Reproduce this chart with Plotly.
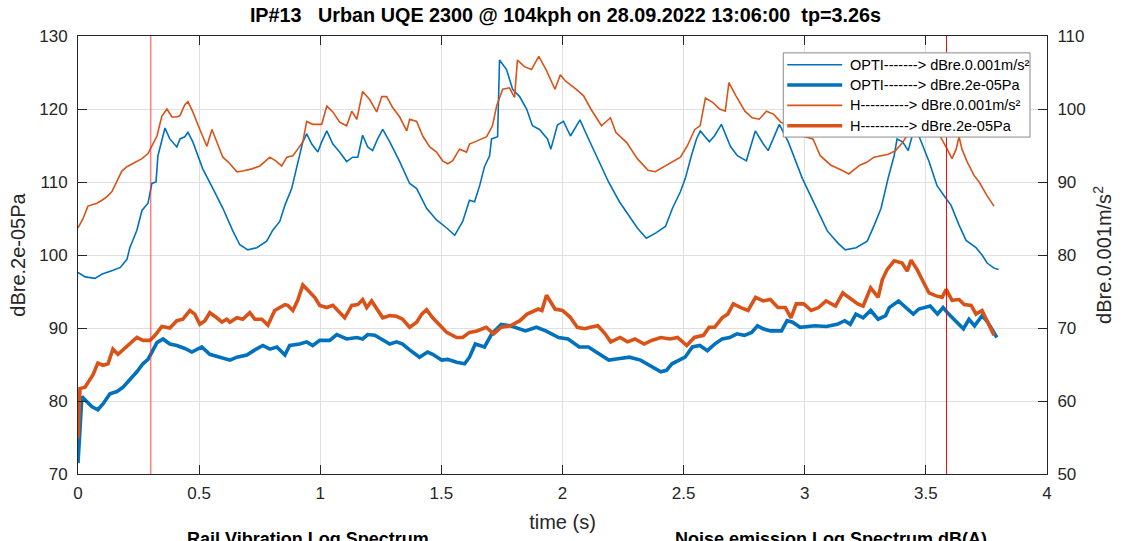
import plotly.graph_objects as go

# ---------------- data ----------------
# OPTI rail vibration level, dB re 0.001 m/s² (right axis)
t_opti_vib = [0.000, 0.030, 0.070, 0.100, 0.145, 0.175, 0.202, 0.214, 0.243, 0.264, 0.289, 0.305, 0.322, 0.330,
              0.359, 0.379, 0.408, 0.421, 0.441, 0.454, 0.474, 0.515, 0.557, 0.598, 0.639, 0.668, 0.701, 0.738,
              0.779, 0.804, 0.833, 0.854, 0.882, 0.907, 0.928, 0.944, 0.965, 0.990, 1.006, 1.027, 1.052, 1.080,
              1.109, 1.134, 1.155, 1.175, 1.196, 1.216, 1.237, 1.258, 1.287, 1.328, 1.369, 1.398, 1.439, 1.480,
              1.522, 1.555, 1.588, 1.616, 1.637, 1.658, 1.678, 1.699, 1.707, 1.732, 1.740, 1.769, 1.794, 1.823,
              1.852, 1.876, 1.905, 1.938, 1.952, 1.979, 2.004, 2.033, 2.072, 2.102, 2.146, 2.190, 2.235, 2.280,
              2.309, 2.346, 2.384, 2.425, 2.454, 2.487, 2.507, 2.532, 2.553, 2.569, 2.606, 2.627, 2.656, 2.693,
              2.722, 2.759, 2.796, 2.829, 2.849, 2.895, 2.932, 2.990, 3.047, 3.093, 3.138, 3.167, 3.212, 3.258,
              3.287, 3.315, 3.344, 3.369, 3.381, 3.404, 3.427, 3.445, 3.460, 3.475, 3.513, 3.546, 3.584, 3.604,
              3.637, 3.666, 3.707, 3.732, 3.753, 3.781, 3.800]
opti_vib = [77.6, 77.0, 76.8, 77.4, 77.9, 78.3, 79.4, 81.0, 83.4, 86.1, 87.1, 89.8, 90.0, 93.6,
            97.4, 95.9, 94.8, 95.9, 96.2, 96.8, 95.5, 91.8, 89.1, 86.4, 83.3, 81.4, 80.7, 81.0,
            81.9, 83.4, 84.6, 86.8, 89.1, 92.8, 95.5, 96.6, 95.2, 94.1, 95.5, 97.0, 95.2, 94.1,
            92.8, 93.4, 93.4, 96.4, 94.8, 94.3, 95.9, 97.2, 95.5, 92.8, 89.8, 89.1, 86.4, 84.8,
            83.7, 82.7, 84.6, 87.5, 87.3, 89.5, 92.1, 93.6, 95.9, 96.2, 106.7, 105.4, 102.7, 101.7,
            100.0, 97.7, 97.2, 95.9, 94.5, 97.8, 98.3, 96.3, 98.5, 96.3, 93.2, 90.0, 87.3, 85.0,
            83.7, 82.3, 83.0, 83.9, 86.4, 88.7, 90.5, 93.6, 95.9, 97.0, 95.5, 96.3, 97.9, 94.9,
            93.6, 92.9, 97.0, 95.2, 94.3, 97.9, 95.5, 90.5, 86.4, 83.3, 81.6, 80.7, 81.0, 81.9,
            84.1, 86.4, 90.5, 93.6, 95.9, 95.5, 94.3, 96.5, 97.5, 96.0, 92.8, 89.5, 87.7, 86.8,
            84.1, 82.0, 81.0, 80.0, 78.9, 78.2, 78.0]

# OPTI noise level, dB re 2e-05 Pa (left axis)
t_opti_noise = [0.000, 0.016, 0.037, 0.058, 0.082, 0.103, 0.132, 0.161, 0.186, 0.214, 0.243, 0.268, 0.289, 0.305,
                0.326, 0.351, 0.379, 0.408, 0.441, 0.470, 0.511, 0.544, 0.586, 0.627, 0.656, 0.697, 0.730, 0.763,
                0.792, 0.821, 0.854, 0.874, 0.915, 0.944, 0.969, 0.998, 1.039, 1.068, 1.109, 1.151, 1.175, 1.196,
                1.225, 1.258, 1.287, 1.315, 1.340, 1.369, 1.410, 1.443, 1.464, 1.501, 1.526, 1.563, 1.596, 1.616,
                1.640, 1.678, 1.708, 1.747, 1.785, 1.847, 1.892, 1.931, 1.984, 2.023, 2.069, 2.107, 2.138, 2.191,
                2.230, 2.276, 2.322, 2.368, 2.406, 2.429, 2.452, 2.506, 2.536, 2.567, 2.598, 2.628, 2.659, 2.690,
                2.720, 2.751, 2.781, 2.805, 2.828, 2.858, 2.904, 2.927, 2.950, 2.981, 3.042, 3.089, 3.134, 3.165,
                3.188, 3.211, 3.241, 3.272, 3.303, 3.334, 3.349, 3.387, 3.418, 3.448, 3.471, 3.518, 3.548, 3.571,
                3.594, 3.655, 3.678, 3.701, 3.732, 3.755, 3.793]
opti_noise = [71.5, 80.6, 79.9, 79.2, 78.8, 79.6, 81.0, 81.3, 81.9, 82.9, 84.0, 85.1, 85.7, 86.7,
              88.0, 88.5, 87.8, 87.6, 87.2, 86.7, 87.4, 86.4, 86.0, 85.6, 86.0, 86.3, 87.0, 87.6,
              87.1, 87.4, 86.3, 87.6, 87.8, 88.1, 87.6, 88.3, 88.3, 89.1, 88.5, 88.7, 88.5, 89.1,
              89.0, 88.3, 87.8, 88.1, 87.8, 87.0, 86.0, 86.7, 86.4, 85.6, 85.7, 85.3, 85.1, 86.0,
              87.8, 87.4, 89.2, 90.5, 90.3, 89.6, 90.1, 89.6, 88.7, 88.5, 87.4, 87.4, 86.7, 85.6,
              85.8, 86.0, 85.6, 84.7, 84.0, 84.2, 85.1, 86.0, 87.4, 87.6, 86.9, 87.8, 88.5, 88.7,
              89.2, 89.0, 89.4, 90.3, 89.9, 89.6, 89.6, 91.0, 90.8, 90.1, 90.3, 90.2, 90.5, 91.0,
              90.5, 91.9, 91.4, 92.4, 91.2, 91.7, 92.8, 93.7, 92.8, 91.9, 92.6, 93.0, 91.9, 92.8,
              91.9, 89.9, 91.2, 90.3, 91.7, 90.8, 88.7]

# H rail vibration level, dB re 0.001 m/s² (right axis)
t_h_vib = [0.000, 0.021, 0.041, 0.078, 0.099, 0.120, 0.140, 0.161, 0.181, 0.202, 0.223, 0.243, 0.264, 0.289,
           0.305, 0.326, 0.346, 0.367, 0.388, 0.408, 0.421, 0.441, 0.454, 0.474, 0.503, 0.532, 0.553, 0.573,
           0.598, 0.627, 0.656, 0.680, 0.718, 0.751, 0.792, 0.816, 0.841, 0.862, 0.887, 0.907, 0.928, 0.944,
           0.969, 1.006, 1.027, 1.052, 1.080, 1.109, 1.130, 1.151, 1.175, 1.204, 1.233, 1.254, 1.274, 1.299,
           1.328, 1.357, 1.369, 1.398, 1.423, 1.452, 1.480, 1.505, 1.526, 1.546, 1.575, 1.604, 1.616, 1.645,
           1.687, 1.711, 1.728, 1.753, 1.781, 1.802, 1.814, 1.843, 1.872, 1.902, 1.932, 1.969, 1.991, 2.013,
           2.057, 2.087, 2.117, 2.161, 2.198, 2.220, 2.265, 2.309, 2.353, 2.383, 2.413, 2.457, 2.487, 2.516,
           2.546, 2.568, 2.590, 2.620, 2.649, 2.672, 2.687, 2.716, 2.753, 2.783, 2.812, 2.842, 2.871, 2.901,
           2.944, 2.990, 3.034, 3.064, 3.108, 3.153, 3.182, 3.227, 3.256, 3.286, 3.345, 3.375, 3.404, 3.419,
           3.472, 3.534, 3.567, 3.588, 3.608, 3.625, 3.637, 3.649, 3.670, 3.699, 3.720, 3.753, 3.781]
h_vib = [83.7, 85.0, 86.7, 87.1, 87.5, 88.0, 88.7, 90.2, 91.5, 92.1, 92.5, 92.9, 93.2, 93.9,
         94.9, 96.3, 99.0, 100.0, 98.9, 98.9, 99.1, 100.6, 101.0, 99.6, 97.2, 94.9, 97.2, 95.5,
         93.4, 92.5, 91.4, 91.5, 91.8, 92.2, 93.4, 92.9, 92.2, 93.4, 93.6, 94.5, 95.5, 98.3,
         97.9, 97.9, 100.4, 99.6, 98.2, 97.7, 99.7, 98.6, 102.4, 101.3, 99.6, 101.7, 101.7, 100.2,
         98.9, 97.0, 98.6, 98.3, 96.3, 94.8, 94.1, 92.9, 92.5, 92.9, 94.5, 94.1, 95.2, 95.6,
         96.2, 97.7, 100.4, 102.7, 102.9, 101.6, 106.7, 105.8, 105.4, 107.2, 105.4, 102.7, 104.7, 103.8,
         102.7, 101.8, 100.0, 97.7, 98.8, 96.8, 95.4, 93.2, 91.6, 91.4, 92.0, 92.9, 93.4, 95.0,
         97.2, 97.7, 101.5, 100.9, 100.0, 99.7, 103.6, 101.8, 99.7, 98.8, 98.6, 99.7, 99.3, 98.2,
         97.5, 96.3, 95.9, 93.6, 92.3, 91.6, 91.1, 92.3, 92.7, 93.4, 93.8, 94.3, 95.4, 96.2,
         97.5, 97.8, 95.9, 94.5, 93.2, 94.5, 96.2, 94.5, 92.8, 90.9, 90.0, 88.1, 86.7]

# H noise level, dB re 2e-05 Pa (left axis)
t_h_noise = [0.000, 0.008, 0.029, 0.041, 0.062, 0.082, 0.103, 0.124, 0.144, 0.165, 0.186, 0.214, 0.243, 0.268,
             0.297, 0.318, 0.346, 0.379, 0.408, 0.433, 0.462, 0.482, 0.503, 0.524, 0.544, 0.573, 0.594, 0.614,
             0.627, 0.656, 0.680, 0.709, 0.730, 0.759, 0.784, 0.812, 0.833, 0.854, 0.866, 0.887, 0.907, 0.928,
             0.948, 0.977, 0.998, 1.027, 1.052, 1.068, 1.101, 1.130, 1.155, 1.175, 1.192, 1.212, 1.237, 1.258,
             1.287, 1.315, 1.340, 1.369, 1.398, 1.419, 1.439, 1.464, 1.493, 1.522, 1.563, 1.588, 1.616, 1.647,
             1.685, 1.716, 1.747, 1.785, 1.824, 1.854, 1.900, 1.915, 1.934, 1.969, 2.000, 2.031, 2.061, 2.092,
             2.115, 2.146, 2.176, 2.199, 2.238, 2.268, 2.299, 2.337, 2.368, 2.406, 2.444, 2.475, 2.513, 2.544,
             2.582, 2.605, 2.628, 2.659, 2.682, 2.705, 2.736, 2.766, 2.797, 2.828, 2.858, 2.889, 2.920, 2.943,
             2.965, 2.996, 3.027, 3.057, 3.088, 3.127, 3.157, 3.180, 3.219, 3.241, 3.272, 3.303, 3.320, 3.340,
             3.369, 3.402, 3.423, 3.439, 3.464, 3.485, 3.513, 3.542, 3.567, 3.584, 3.608, 3.637, 3.658, 3.687,
             3.707, 3.732, 3.753, 3.781]
h_noise = [74.9, 81.7, 81.9, 82.6, 83.6, 85.2, 84.9, 85.1, 87.1, 86.4, 87.0, 87.8, 88.7, 88.3,
           88.3, 89.0, 90.2, 90.0, 91.0, 91.2, 92.4, 91.9, 90.5, 91.0, 92.1, 91.4, 90.8, 91.2,
           90.8, 91.4, 91.2, 92.1, 91.2, 91.2, 90.4, 92.4, 92.8, 93.2, 93.1, 92.4, 93.8, 95.9,
           95.2, 94.2, 93.1, 92.8, 93.1, 92.5, 91.4, 93.1, 93.2, 93.9, 92.8, 93.7, 92.4, 91.4,
           91.7, 91.6, 91.2, 90.1, 90.8, 91.9, 92.5, 91.4, 90.4, 89.4, 88.7, 88.7, 89.4, 89.6,
           90.1, 89.2, 90.1, 90.3, 91.0, 91.9, 92.6, 92.4, 94.5, 92.6, 92.4, 91.5, 90.1, 89.9,
           90.1, 90.3, 89.2, 88.1, 88.7, 88.1, 88.5, 87.8, 88.3, 88.7, 88.5, 88.7, 87.6, 88.7,
           89.0, 90.1, 90.1, 91.4, 91.9, 93.3, 92.8, 92.4, 94.2, 93.7, 93.9, 92.8, 92.8, 91.4,
           93.3, 93.3, 92.4, 92.8, 93.7, 93.0, 94.8, 94.2, 93.3, 93.0, 95.5, 94.2, 96.6, 98.0,
           99.2, 98.9, 97.8, 99.3, 98.0, 96.6, 94.8, 94.4, 94.2, 95.3, 93.8, 93.9, 93.2, 93.1,
           91.9, 92.4, 91.0, 89.0]

# time markers (s)
marker_times = [0.3, 3.585]

# legend texts
legend_labels = ["OPTI-------> dBre.0.001m/s²",
                 "OPTI-------> dBre.2e-05Pa",
                 "H----------> dBre.0.001m/s²",
                 "H----------> dBre.2e-05Pa"]

title_text = "IP#13   Urban UQE 2300 @ 104kph on 28.09.2022 13:06:00  tp=3.26s"
subplot_titles = ["Rail Vibration Log Spectrum", "Noise emission Log Spectrum dB(A)"]

# ---------------- styling ----------------
BLUE = "#0072BD"
ORANGE = "#D95319"
AX = "#262626"
GRID = "#dfdfdf"
FONT = "Liberation Sans, Arial, sans-serif"

W, H = 1124, 541
L, R, T, B = 78, 1048, 36, 478  # plot area in pixels


def px_x(px):
    return (px - L) / (R - L)


def px_y(py):
    return 1 - (py - T) / (B - T)


fig = go.Figure()

series = [
    (t_opti_vib, opti_vib, "y2", BLUE, 1.6),
    (t_opti_noise, opti_noise, "y", BLUE, 3.6),
    (t_h_vib, h_vib, "y2", ORANGE, 1.6),
    (t_h_noise, h_noise, "y", ORANGE, 3.6),
]
for (tt, vv, ax, col, wd), name in zip(series, legend_labels):
    fig.add_trace(go.Scatter(x=tt, y=vv, yaxis=ax, mode="lines", name=name,
                             line=dict(color=col, width=wd), showlegend=False,
                             hoverinfo="skip"))

shapes = []
# vertical time markers
for tm, col, wd in zip(marker_times, ["rgba(255,40,40,0.6)", "#ff0000"], [1.5, 1]):
    shapes.append(dict(type="line", xref="x", yref="paper", x0=tm, x1=tm, y0=0, y1=1,
                       line=dict(color=col, width=wd), layer="above"))

# legend box
shapes.append(dict(type="rect", xref="paper", yref="paper",
                   x0=px_x(784), x1=px_x(1031), y0=px_y(138), y1=px_y(53),
                   fillcolor="white", line=dict(color="#8a8a8a", width=1), layer="above"))
row_y = [65, 85.5, 106, 126.5]
annotations = []
for (tt, vv, ax, col, wd), label, ry in zip(series, legend_labels, row_y):
    shapes.append(dict(type="line", xref="paper", yref="paper",
                       x0=px_x(788), x1=px_x(843), y0=px_y(ry), y1=px_y(ry),
                       line=dict(color=col, width=wd), layer="above"))
    annotations.append(dict(xref="paper", yref="paper", x=px_x(849), y=px_y(ry),
                            xanchor="left", yanchor="middle", showarrow=False, text=label,
                            font=dict(family=FONT, size=14.5, color="#000000")))

# titles of the panels below (cut by the page edge)
for txt, cx in zip(subplot_titles, [308, 832]):
    annotations.append(dict(xref="paper", yref="paper", x=px_x(cx), y=px_y(544),
                            xanchor="center", yanchor="middle", showarrow=False,
                            text="<b>" + txt + "</b>",
                            font=dict(family=FONT, size=18, color="#000000")))

axis_common = dict(showline=True, linecolor=AX, linewidth=1, ticks="inside", ticklen=9,
                   tickcolor=AX, tickwidth=1, zeroline=False,
                   tickfont=dict(family=FONT, size=17, color=AX))

fig.update_layout(
    width=W, height=H, autosize=False,
    margin=dict(l=L, r=W - R, t=T, b=H - B, pad=0),
    paper_bgcolor="white", plot_bgcolor="white",
    font=dict(family=FONT, color=AX),
    title=dict(text="<b>" + title_text + "</b>", x=px_x(566), xref="paper", xanchor="center",
               y=1 - 15 / H, yref="container", yanchor="middle",
               font=dict(family=FONT, size=19.8, color="#000000")),
    xaxis=dict(range=[0, 4], dtick=0.5, tick0=0, showgrid=True, gridcolor=GRID, mirror="ticks",
               title=dict(text="time (s)", standoff=12, font=dict(family=FONT, size=20, color=AX)),
               ticklabelstandoff=4, **axis_common),
    yaxis=dict(range=[70, 130], dtick=10, tick0=70, showgrid=True, gridcolor=GRID,
               title=dict(text="dBre.2e-05Pa", standoff=8, font=dict(family=FONT, size=20, color=AX)),
               ticklabelstandoff=6, **axis_common),
    yaxis2=dict(range=[50, 110], dtick=10, tick0=50, showgrid=False, overlaying="y", side="right",
                title=dict(text="dBre.0.001m/s<sup>2</sup>", standoff=12,
                           font=dict(family=FONT, size=20, color=AX)),
                ticklabelstandoff=6, **axis_common),
    shapes=shapes,
    annotations=annotations,
)

fig.write_html("out.html")
